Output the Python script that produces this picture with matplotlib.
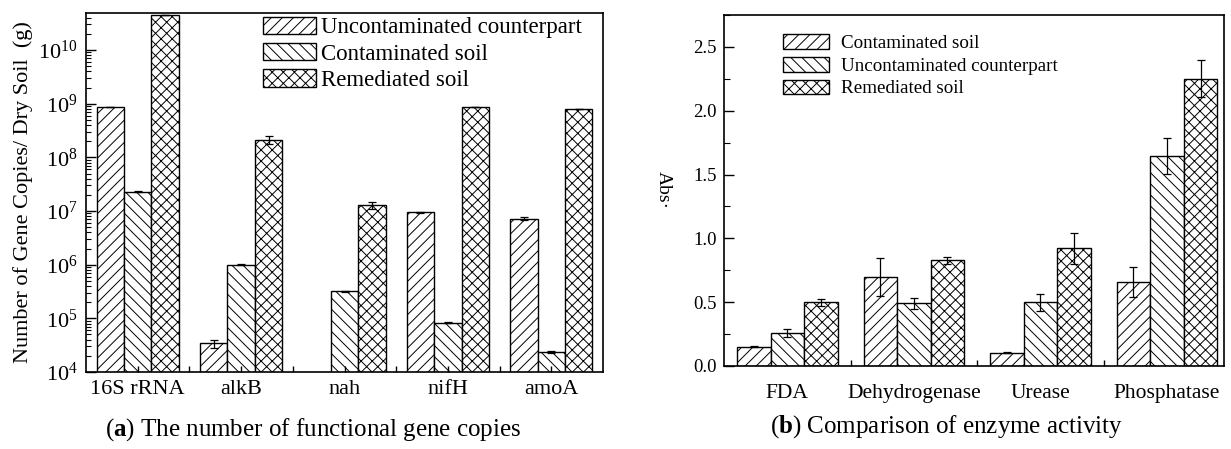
import numpy as np
import matplotlib
matplotlib.use('Agg')
from matplotlib import pyplot as plt
from matplotlib.ticker import LogLocator, MultipleLocator, FixedLocator, NullFormatter, FormatStrFormatter

plt.rcParams['font.family'] = ['Liberation Serif', 'DejaVu Serif']
plt.rcParams['mathtext.fontset'] = 'custom'
plt.rcParams['mathtext.rm'] = 'Liberation Serif'
plt.rcParams['mathtext.bf'] = 'Liberation Serif:bold'
plt.rcParams['hatch.linewidth'] = 0.7
plt.rcParams['hatch.color'] = '#333333'

# (a) gene copies per g dry soil
genes = ['16S rRNA', 'alkB', 'nah', 'nifH', 'amoA']
uncontam_a = [8.5e8, 3.4e4, np.nan, 9.5e6, 7.2e6]
uncontam_a_err = [0, 6e3, 0, 2e5, 4e5]
contam_a = [2.3e7, 1.0e6, 3.2e5, 8.3e4, 2.4e4]
contam_a_err = [5e5, 2e4, 1e4, 1e3, 1e3]
remed_a = [4.5e10, 2.1e8, 1.28e7, 8.5e8, 7.8e8]
remed_a_err = [0, 3.5e7, 2e6, 0, 0]

# (b) enzyme activity
enzymes = ['FDA', 'Dehydrogenase', 'Urease', 'Phosphatase']
contam_b = [0.151, 0.70, 0.104, 0.658]
contam_b_err = [0.005, 0.15, 0.005, 0.12]
uncontam_b = [0.256, 0.49, 0.498, 1.647]
uncontam_b_err = [0.03, 0.04, 0.065, 0.14]
remed_b = [0.498, 0.827, 0.921, 2.252]
remed_b_err = [0.025, 0.025, 0.12, 0.145]

W, H = 1231, 449
fig = plt.figure(figsize=(W / 100, H / 100), dpi=100)

def px_axes(x0, y0, x1, y1):
    return fig.add_axes([x0 / W, 1 - y1 / H, (x1 - x0) / W, (y1 - y0) / H])

bw = 0.265
err_kw = dict(ecolor='black', elinewidth=0.9, capsize=3, capthick=0.9)
bar_kw = dict(color='white', edgecolor='black', linewidth=1.0)

# ---- panel a
ax1 = px_axes(86, 13, 603, 372)
ax1.set_yscale('log')
x = np.arange(len(genes))
ax1.bar(x - bw, uncontam_a, bw, yerr=uncontam_a_err, hatch='///', label='Uncontaminated counterpart', error_kw=err_kw, **bar_kw)
ax1.bar(x, contam_a, bw, yerr=contam_a_err, hatch='\\\\\\', label='Contaminated soil', error_kw=err_kw, **bar_kw)
ax1.bar(x + bw, remed_a, bw, yerr=remed_a_err, hatch='xxx', label='Remediated soil', error_kw=err_kw, **bar_kw)
ax1.set_ylim(1e4, 10 ** 10.69)
ax1.set_xlim(-0.5, 4.5)
ax1.yaxis.set_major_locator(LogLocator(base=10, numticks=20))
ax1.yaxis.set_minor_locator(LogLocator(base=10, subs=np.arange(2, 10), numticks=20))
ax1.yaxis.set_minor_formatter(NullFormatter())
ax1.set_xticks(x)
ax1.set_xticklabels(genes)
ax1.xaxis.set_minor_locator(FixedLocator(x[:-1] + 0.5))
ax1.tick_params(axis='y', which='major', direction='in', length=7, width=1, labelsize=16, pad=6)
ax1.tick_params(axis='y', which='minor', direction='in', length=3.5, width=0.8)
ax1.tick_params(axis='x', which='both', direction='in', length=4, width=1, labelsize=16, pad=6)
ax1.set_ylabel('Number of Gene Copies/ Dry Soil  (g)', fontsize=16, labelpad=4)
for s in ax1.spines.values():
    s.set_linewidth(1.2)
ax1.legend(loc='upper left', bbox_to_anchor=(0.342, 0.99), frameon=False, fontsize=16.5,
           handlelength=2.3, handleheight=0.8, handletextpad=0.25, labelspacing=0.2,
           borderpad=0, borderaxespad=0)

# ---- panel b
ax2 = px_axes(724, 15, 1224, 366)
x2 = np.arange(len(enzymes))
ax2.bar(x2 - bw, contam_b, bw, yerr=contam_b_err, hatch='///', label='Contaminated soil', error_kw=err_kw, **bar_kw)
ax2.bar(x2, uncontam_b, bw, yerr=uncontam_b_err, hatch='\\\\\\', label='Uncontaminated counterpart', error_kw=err_kw, **bar_kw)
ax2.bar(x2 + bw, remed_b, bw, yerr=remed_b_err, hatch='xxx', label='Remediated soil', error_kw=err_kw, **bar_kw)
ax2.set_xlim(-0.5, 3.45)
ax2.set_ylim(0, 2.75)
ax2.yaxis.set_major_locator(MultipleLocator(0.5))
ax2.yaxis.set_minor_locator(MultipleLocator(0.25))
ax2.set_xticks(x2)
ax2.set_xticklabels(enzymes)
ax2.xaxis.set_minor_locator(FixedLocator(x2[:-1] + 0.5))
ax2.tick_params(axis='y', which='major', direction='in', length=7, width=1, labelsize=13.5, pad=5)
ax2.tick_params(axis='y', which='minor', direction='in', length=4, width=0.8)
ax2.tick_params(axis='x', which='major', length=0, labelsize=15.5, pad=13)
ax2.tick_params(axis='x', which='minor', direction='in', length=4, width=1)
ax2.yaxis.set_major_formatter(FormatStrFormatter('%.1f'))
ax2.set_ylabel('Abs·', fontsize=14, rotation=-90, labelpad=28)
for s in ax2.spines.values():
    s.set_linewidth(1.2)
ax2.legend(loc='upper left', bbox_to_anchor=(0.118, 0.945), frameon=False, fontsize=13.7,
           handlelength=2.4, handleheight=0.8, handletextpad=0.65, labelspacing=0.25,
           borderpad=0, borderaxespad=0)

# captions
fig.text(313 / W, 1 - 430 / H, r'($\mathbf{a}$) The number of functional gene copies',
         ha='center', va='center', fontsize=18)
fig.text(947 / W, 1 - 427 / H, r'($\mathbf{b}$) Comparison of enzyme activity',
         ha='center', va='center', fontsize=18)

fig.savefig('out.png', dpi=100)
